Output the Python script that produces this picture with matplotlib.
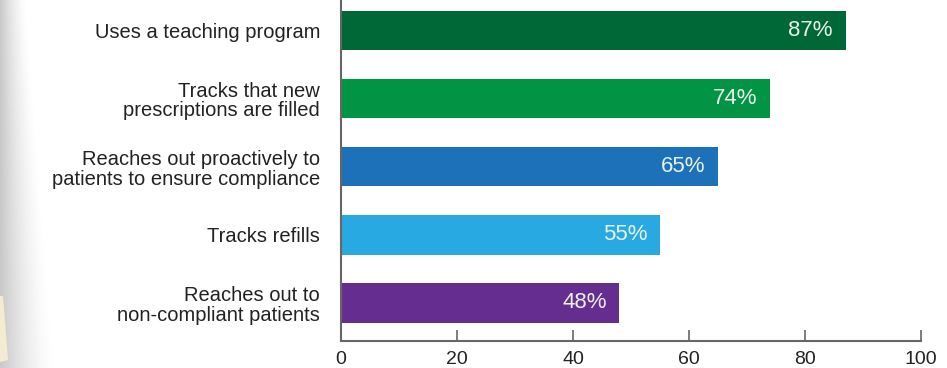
import matplotlib
matplotlib.use("Agg")
import matplotlib.pyplot as plt
import numpy as np
from matplotlib.patches import Polygon

categories = [
    "Uses a teaching program",
    "Tracks that new\nprescriptions are filled",
    "Reaches out proactively to\npatients to ensure compliance",
    "Tracks refills",
    "Reaches out to\nnon-compliant patients",
]
values = [87, 74, 65, 55, 48]
colors = ["#006837", "#009444", "#1d71b8", "#29a9e1", "#662d91"]
x_ticks = [0, 20, 40, 60, 80, 100]

plt.rcParams["font.family"] = ["Liberation Sans", "DejaVu Sans"]

fig = plt.figure(figsize=(9.47, 3.68), dpi=100)

# soft shadow strip along the left edge, wider towards the bottom
bg = fig.add_axes([0, 0, 1, 1], zorder=-10)
bg.set_xlim(0, 947)
bg.set_ylim(368, 0)
bg.axis("off")
xx, yy = np.meshgrid(np.arange(70) + 0.5, np.arange(368) + 0.5)
reach = 28 + 30 * (yy / 368)
fade = np.clip(1 - xx / reach, 0, 1) ** 1.6
shade = 1 - 0.22 * fade
bg.imshow(shade, extent=[0, 70, 368, 0], cmap="gray", vmin=0, vmax=1,
          aspect="auto", interpolation="bilinear")
bg.add_patch(Polygon([[0, 296], [3, 296], [8, 360], [0, 362]], closed=True,
                     facecolor="#f4ecd2", edgecolor="none"))

ax = fig.add_axes([341 / 947, 27 / 368, 580 / 947, 341 / 368])
ypos = np.arange(len(values))[::-1]
ax.barh(ypos, values, height=0.58, color=colors)
ax.set_xlim(0, 100)
ax.set_ylim(-0.56, 4.45)

for y, v in zip(ypos, values):
    ax.text(v - 2.2, y, f"{v}%", ha="right", va="center", color="#e8f1ea", fontsize=16)

ax.set_yticks(ypos)
ax.set_yticklabels(categories, fontsize=14.5, color="#222222", linespacing=1.05)
ax.set_xticks(x_ticks)
ax.set_xticklabels([str(t) for t in x_ticks], fontsize=14, color="#222222")
ax.tick_params(axis="y", length=0, pad=15)
ax.tick_params(axis="x", direction="in", length=8, width=1.2, color="#666666", pad=7)

for side in ["top", "right"]:
    ax.spines[side].set_visible(False)
for side in ["left", "bottom"]:
    ax.spines[side].set_color("#666666")
    ax.spines[side].set_linewidth(1.5)
ax.patch.set_alpha(0)

fig.savefig("out.png", dpi=100)
